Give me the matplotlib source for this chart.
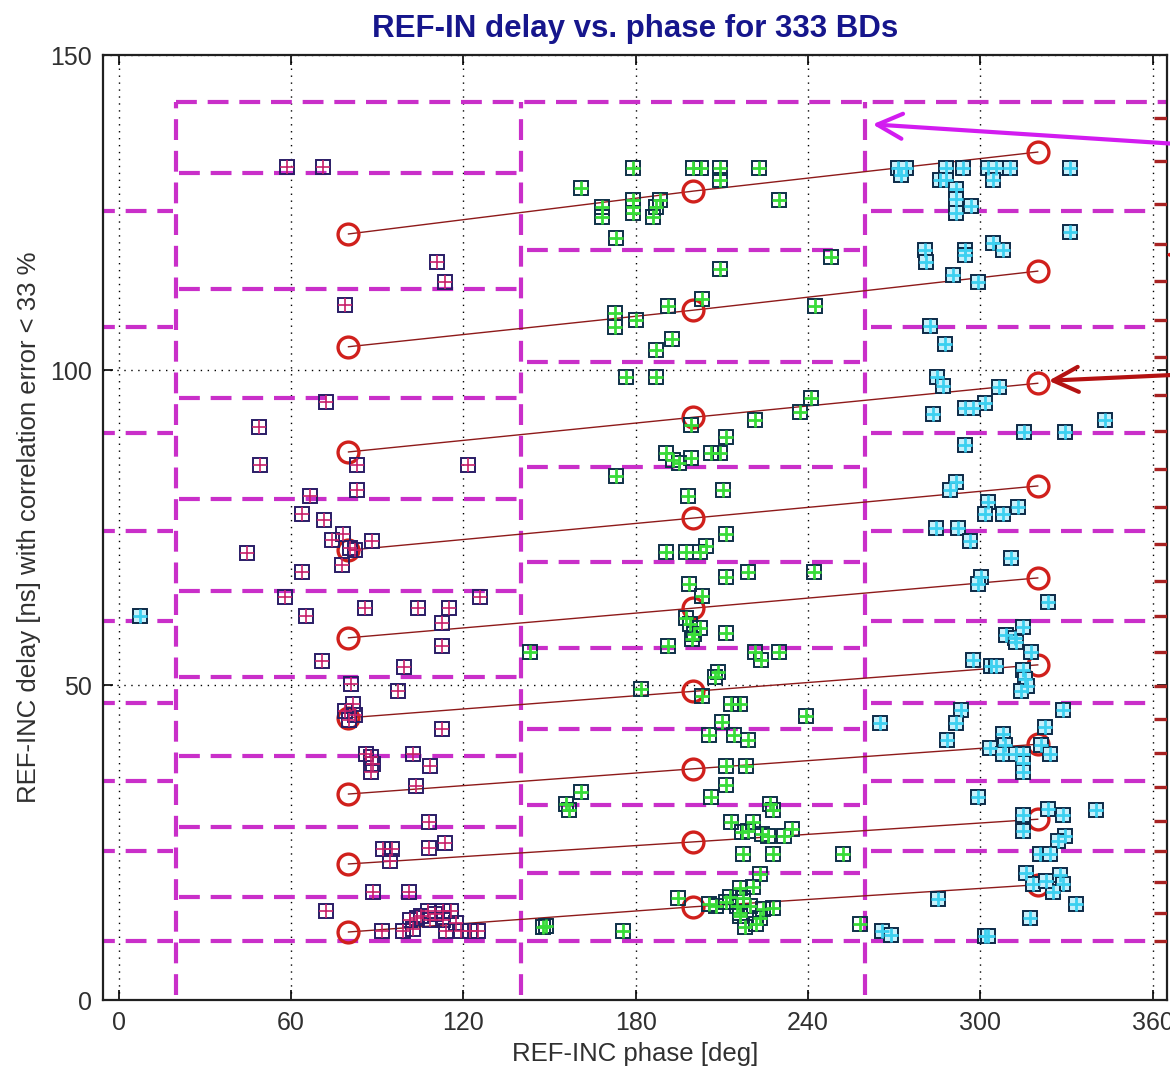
import numpy as np
import matplotlib.pyplot as plt

plt.rcParams['font.family'] = ['Liberation Sans', 'DejaVu Sans']

# measured BDs, split by phase bin: phase [deg], delay [ns]
left_phase = [58.5, 71.0, 110.7, 113.5, 78.7, 72.1, 48.7, 49.3, 82.8, 121.6, 82.8, 66.5, 63.9, 71.5,
              74.4, 78.1, 80.4, 82.2, 88.3, 77.8, 44.5, 63.9, 57.8, 125.9, 65.3, 85.6, 104.3, 114.9,
              112.6, 112.6, 70.8, 99.4, 80.7, 97.3, 81.4, 78.7, 80.3, 82.2, 112.6, 86.2, 88.0, 88.6,
              87.7, 102.3, 108.5, 103.6, 107.9, 92.0, 95.3, 94.4, 107.9, 113.5, 88.5, 101.0, 72.3,
              91.8, 98.9, 101.3, 102.5, 104.0, 107.7, 110.0, 112.9, 115.8, 112.9, 114.1, 117.6,
              119.3, 122.2, 125.1, 105.4, 108.3]
left_delay = [132.2, 132.2, 117.1, 114.0, 110.3, 94.9, 91.0, 85.0, 85.0, 85.0, 81.0, 80.0, 77.2, 76.2,
              73.1, 73.9, 71.7, 71.4, 72.8, 69.1, 71.0, 67.9, 64.0, 64.0, 61.0, 62.2, 62.2, 62.2,
              59.9, 56.2, 53.8, 52.9, 50.1, 49.1, 47.0, 45.8, 44.4, 45.2, 43.0, 39.1, 38.5, 37.4,
              36.2, 39.1, 37.2, 34.0, 28.3, 24.0, 24.0, 22.1, 24.1, 25.0, 17.1, 17.1, 14.2,
              11.0, 11.0, 12.7, 11.2, 13.0, 14.1, 13.6, 14.1, 14.1, 12.7, 11.0, 12.2,
              11.0, 11.0, 11.0, 13.4, 12.7]

mid_phase = [160.9, 168.4, 168.4, 173.3, 178.9, 178.9, 178.9, 178.9, 186.1, 187.2, 188.4, 200.0, 202.8,
             209.3, 209.3, 222.9, 229.9, 247.9, 209.3, 172.7, 172.7, 180.2, 191.3, 203.2, 242.3, 192.8,
             187.2, 176.8, 187.2, 241.2, 237.1, 221.4, 199.4, 211.6, 190.7, 193.0, 195.2, 199.4, 206.4,
             209.3, 173.3, 198.2, 210.4, 211.6, 204.6, 190.7, 197.6, 202.3, 211.6, 219.1, 242.0, 198.5,
             203.2, 197.6, 198.8, 202.3, 200.3, 199.7, 211.6, 191.3, 143.1, 221.4, 223.7, 229.9, 208.7,
             207.5, 182.0, 203.2, 213.3, 216.2, 239.4, 210.1, 205.4, 214.4, 219.1, 211.6, 218.5, 211.6,
             206.4, 161.1, 155.9, 156.8, 226.7, 227.8, 213.3, 220.8, 216.9, 219.2, 223.9, 226.2, 231.5,
             234.3, 217.5, 227.9, 252.3, 223.2, 194.7, 216.2, 221.0, 212.7, 217.4, 215.2, 219.7, 211.6,
             216.2, 224.3, 227.8, 223.2, 222.0, 218.0, 216.2, 205.7, 208.0, 147.7, 148.9, 175.6, 258.0]
mid_delay = [128.9, 125.9, 124.3, 121.0, 132.0, 127.0, 125.9, 124.9, 124.3, 125.9, 127.0, 132.0, 132.0,
             132.0, 130.2, 132.0, 127.0, 118.0, 116.1, 109.0, 106.9, 107.9, 110.2, 111.2, 110.2, 105.0,
             103.2, 98.9, 98.9, 95.5, 93.3, 92.1, 91.2, 89.3, 86.9, 85.8, 85.2, 86.0, 86.9,
             86.9, 83.2, 80.0, 80.9, 73.9, 72.1, 71.1, 71.1, 71.1, 67.1, 68.0, 67.9, 66.0,
             64.2, 60.6, 59.7, 59.0, 58.1, 57.3, 58.2, 56.2, 55.2, 55.2, 53.9, 55.3, 52.1,
             51.2, 49.3, 48.3, 47.0, 47.0, 45.1, 44.2, 42.1, 42.1, 41.3, 37.2, 37.2, 34.2,
             32.3, 33.1, 31.1, 30.1, 31.1, 30.1, 28.3, 28.3, 26.6, 26.9, 26.3, 26.0, 26.0,
             27.2, 23.2, 23.2, 23.2, 20.0, 16.2, 17.8, 17.9, 16.4, 16.2, 15.0, 15.0, 15.5,
             13.3, 14.4, 14.6, 13.0, 12.1, 11.6, 13.8, 15.2, 15.0, 11.6, 11.8, 11.0, 12.1]

right_phase = [7.3, 271.4, 274.3, 272.5, 288.2, 294.0, 285.9, 288.2, 291.6, 291.6, 291.6, 296.9, 302.7,
               305.6, 310.2, 304.4, 331.1, 331.1, 280.6, 281.2, 294.6, 294.6, 304.4, 307.9, 290.5,
               299.2, 282.6, 287.6, 284.9, 287.0, 306.4, 301.5, 294.6, 297.5, 283.5, 315.1, 329.4,
               343.3, 294.6, 291.6, 289.3, 302.7, 301.5, 307.9, 313.1, 284.7, 292.2, 296.3, 310.6,
               300.4, 299.2, 323.6, 309.1, 312.0, 314.9, 312.6, 317.8, 297.5, 303.8, 305.6, 314.9,
               315.5, 316.1, 314.3, 328.8, 293.4, 291.6, 288.4, 265.2, 322.4, 303.3, 307.9, 308.5,
               307.9, 312.5, 314.9, 314.9, 314.9, 321.3, 324.2, 299.2, 340.4, 314.9, 314.9, 323.6,
               328.8, 329.4, 327.1, 320.7, 324.2, 316.0, 318.3, 327.6, 328.8, 325.3, 323.0, 333.4,
               317.2, 285.3, 265.6, 269.0, 301.5, 302.7]
right_delay = [61.0, 132.0, 132.0, 130.9, 132.0, 132.0, 130.2, 130.2, 128.8, 127.2, 124.9, 126.0, 132.0,
               132.0, 132.0, 130.2, 132.0, 121.9, 119.0, 117.2, 119.0, 118.3, 120.1, 119.0, 115.1,
               114.0, 107.0, 104.1, 98.9, 97.5, 97.3, 94.8, 93.9, 93.9, 93.1, 90.2, 90.2,
               92.0, 88.1, 82.3, 81.0, 79.0, 77.2, 77.2, 78.2, 74.9, 74.9, 72.9, 70.2,
               67.1, 66.0, 63.2, 58.0, 57.5, 59.2, 56.9, 55.3, 54.0, 53.1, 53.1, 52.4,
               51.0, 49.8, 49.0, 46.0, 46.0, 44.0, 41.2, 44.0, 43.3, 40.0, 42.2, 40.5,
               39.1, 39.1, 39.1, 37.6, 36.2, 40.5, 39.1, 32.3, 30.2, 29.4, 26.9, 30.3,
               29.3, 26.0, 25.2, 23.2, 23.2, 20.1, 18.4, 19.8, 18.4, 17.2, 18.9, 15.3,
               13.1, 16.1, 11.0, 10.4, 10.2, 10.2]

# model delays at the three reference phases, one row per ambiguity
fit_phase = [80, 200, 320]
fit_delay = [[121.6, 128.4, 134.6],
             [103.7, 109.5, 115.7],
             [87.0, 92.5, 97.9],
             [71.4, 76.5, 81.6],
             [57.5, 62.2, 67.0],
             [44.8, 49.0, 53.2],
             [32.7, 36.7, 40.6],
             [21.6, 25.1, 28.7],
             [10.8, 14.8, 18.3]]

# bin borders and delay window edges
bin_edges = [20, 140, 260]
box_top = 142.6
box_bottom = 0.8
left_levels = [131.3, 112.9, 95.6, 79.6, 64.9, 51.2, 38.7, 27.5, 16.3, 9.4]
mid_levels = [119.0, 101.2, 84.6, 69.6, 55.8, 43.0, 31.0, 20.1, 9.4]
right_levels = [125.2, 106.8, 90.0, 74.5, 60.2, 47.1, 34.8, 23.7, 9.4]
edge_levels = [140.0, 133.2, 126.4, 120.0, 114.1, 108.0, 102.0, 96.1, 90.4, 84.3, 78.3, 72.4,
               66.5, 61.0, 55.3, 49.9, 44.6, 39.2, 33.8, 28.4, 23.6, 18.7, 13.8, 9.4]

fig = plt.figure(figsize=(11.7, 10.73), dpi=100)
ax = fig.add_axes([0.088, 0.068, 0.9094, 0.8807])

mag = '#c92fc9'
dash = dict(color=mag, lw=3, dashes=(5, 2.6), zorder=2)

# grid
for gx in range(0, 361, 60):
    ax.axvline(gx, color='k', lw=1, ls=(0, (1, 4)), zorder=1)
for gy in [0, 50, 100, 150]:
    ax.axhline(gy, color='k', lw=1, ls=(0, (1, 4)), zorder=1)

# windows
for bx in bin_edges:
    ax.plot([bx, bx], [box_bottom, box_top], **dash)
ax.plot([20, 370], [box_top, box_top], **dash)
for y in left_levels:
    ax.plot([21, 139], [y, y], **dash)
for y in mid_levels:
    ax.plot([142, 258], [y, y], **dash)
for y in right_levels:
    ax.plot([262, 358], [y, y], **dash)
    ax.plot([-98, 19], [y, y], **dash)
for y in edge_levels:
    ax.plot([360.5, 370], [y, y], color='#a82222', lw=2.4, zorder=6, solid_capstyle='butt')

# model lines and reference circles
for row in fit_delay:
    ax.plot(fit_phase, row, color='#8e1a1a', lw=1.0, zorder=3)
    ax.plot(fit_phase, row, ls='none', marker='o', ms=15, mfc='none', mec='#d0201c', mew=2.4, zorder=4)

# BDs
groups = [(left_phase, left_delay, '#2a1c66', '#c8206a', 'none', 1.2),
          (mid_phase, mid_delay, '#0e3048', '#38dc38', 'none', 2.0),
          (right_phase, right_delay, '#0c2a48', '#3cd0f0', '#c6f0fb', 2.0)]
for ph, dl, edge, cross, face, cw in groups:
    ax.plot(ph, dl, ls='none', marker='s', ms=9.5, mfc=face, mec=edge, mew=1.4, zorder=5)
    ax.plot(ph, dl, ls='none', marker='+', ms=9.5, mec=cross, mew=cw, zorder=5)

# pointers
ax.annotate('', xy=(262.5, 139.0), xytext=(385, 135.4), annotation_clip=False,
            arrowprops=dict(arrowstyle='->,head_length=0.9,head_width=0.45', color='#d21cf0',
                            lw=3, mutation_scale=20, shrinkA=0, shrinkB=0), zorder=7)
ax.annotate('', xy=(323.8, 98.3), xytext=(385, 99.6), annotation_clip=False,
            arrowprops=dict(arrowstyle='->,head_length=0.9,head_width=0.45', color='#b41212',
                            lw=3, mutation_scale=20, shrinkA=0, shrinkB=0), zorder=7)
ax.annotate('', xy=(364.6, 118.3), xytext=(385, 118.3), annotation_clip=False,
            arrowprops=dict(arrowstyle='-|>,head_length=0.5,head_width=0.25', color='#e01010',
                            lw=2, mutation_scale=20, shrinkA=0, shrinkB=0), zorder=7)

ax.set_xlim(-5.5, 365)
ax.set_ylim(0, 150)
ax.set_xticks(range(0, 361, 60))
ax.set_yticks([0, 50, 100, 150])
ax.tick_params(direction='in', top=True, right=True, length=7, width=1.2,
               labelsize=18, labelcolor='#303030', pad=8)
for sp in ax.spines.values():
    sp.set_linewidth(1.6)
    sp.set_color('#202020')

ax.set_title('REF-IN delay vs. phase for 333 BDs', fontsize=22.5, fontweight='bold',
             color='#16168c', pad=13)
ax.set_xlabel('REF-INC phase [deg]', fontsize=18.5, color='#303030', labelpad=5)
ax.set_ylabel('REF-INC delay [ns] with correlation error < 33 %', fontsize=18.5, color='#303030')
ax.yaxis.set_label_coords(-0.058, 0.5)

fig.savefig('out.png', dpi=100)
